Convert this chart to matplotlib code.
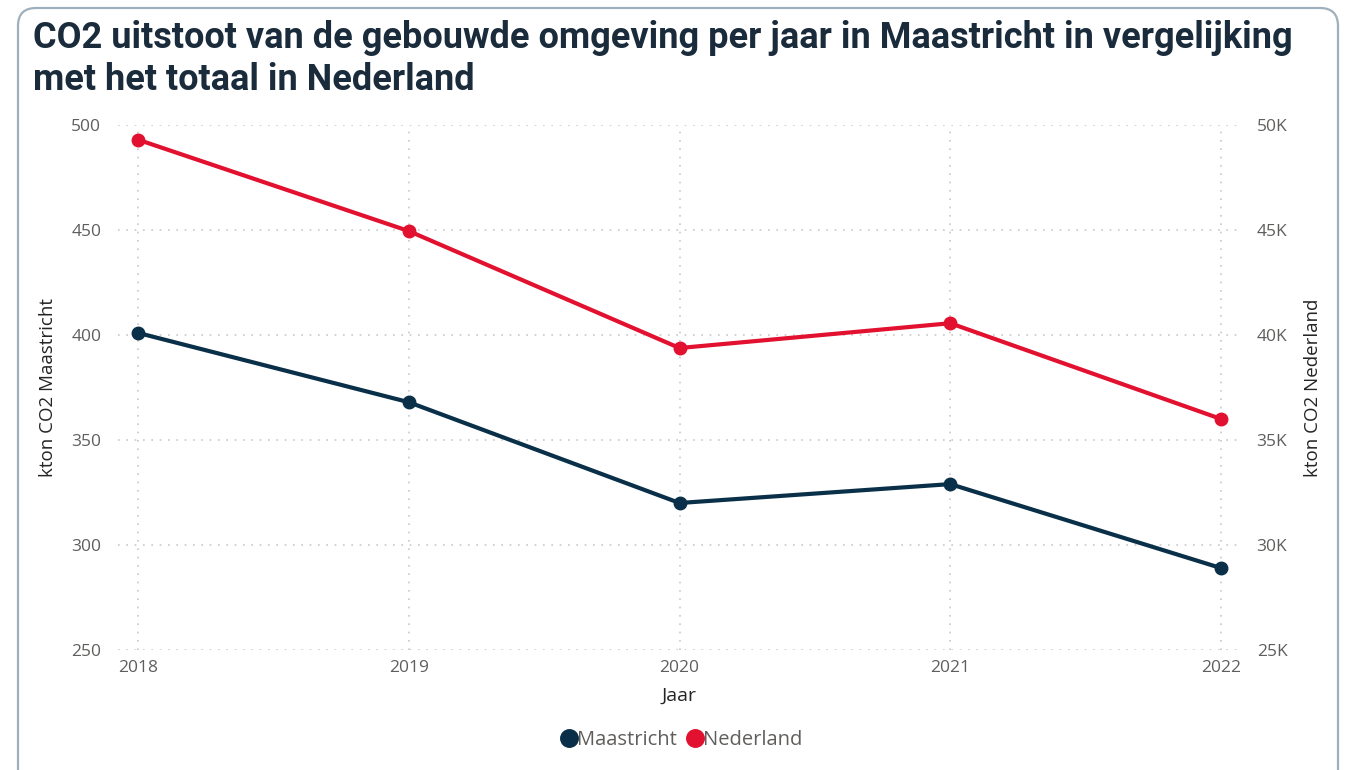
import matplotlib
matplotlib.use("Agg")
import matplotlib.pyplot as plt
from matplotlib.patches import FancyBboxPatch
from matplotlib.transforms import IdentityTransform
from matplotlib.ticker import FuncFormatter

# data
years = [2018, 2019, 2020, 2021, 2022]
maastricht = [401, 368, 320, 329, 289]
nederland = [49300, 44950, 39380, 40560, 36000]

left_ticks = [250, 300, 350, 400, 450, 500]
right_ticks = [25000, 30000, 35000, 40000, 45000, 50000]

C_MAAS = "#0A3049"
C_NED = "#E1112F"
C_TICK = "#605E5C"
C_TITLE = "#1A2B3B"
C_GRID = "#C8C8C8"

plt.rcParams["font.family"] = ["Open Sans", "DejaVu Sans"]

fig = plt.figure(figsize=(13.46, 7.7), dpi=100)
fig.patch.set_facecolor("white")

# rounded card border (pixel coordinates)
border = FancyBboxPatch((18, -20), 1320, 782, boxstyle="round,pad=0,rounding_size=18",
                        transform=IdentityTransform(), facecolor="none",
                        edgecolor="#9FB0BC", linewidth=1.6)
fig.patches.append(border)

fig.text(33 / 1346, 1 - 20 / 770,
         "CO2 uitstoot van de gebouwde omgeving per jaar in Maastricht in vergelijking\nmet het totaal in Nederland",
         ha="left", va="top", fontsize=26, fontweight="bold", color=C_TITLE,
         family=["Roboto", "DejaVu Sans"], linespacing=1.2)

ax = fig.add_axes([118 / 1346, 1 - 650 / 770, (1240 - 118) / 1346, (650 - 125) / 770])
ax2 = ax.twinx()

ax.plot(years, maastricht, color=C_MAAS, lw=3, marker="o", ms=9, zorder=3, label="Maastricht")
ax2.plot(years, nederland, color=C_NED, lw=3, marker="o", ms=9, zorder=3, label="Nederland")

ax.set_xlim(2017.926, 2022.07)
ax.set_ylim(250, 500)
ax2.set_ylim(25000, 50000)
ax.set_xticks(years)
ax.set_yticks(left_ticks)
ax2.set_yticks(right_ticks)
ax2.yaxis.set_major_formatter(FuncFormatter(lambda v, p: f"{int(v / 1000)}K"))

for a in (ax, ax2):
    for s in a.spines.values():
        s.set_visible(False)
    a.tick_params(length=0, labelsize=12.5, labelcolor=C_TICK)
ax.tick_params(axis="y", pad=12)
ax2.tick_params(axis="y", pad=12)
ax.tick_params(axis="x", pad=7)

ax.grid(True, color=C_GRID, linestyle=(0, (1, 4)), linewidth=1.2)
ax.set_axisbelow(True)

ax.set_ylabel("kton CO2 Maastricht", fontsize=13.5, color="#252423", labelpad=10)
ax2.set_ylabel("kton CO2 Nederland", fontsize=13.5, color="#252423", labelpad=12)
ax.set_xlabel("Jaar", fontsize=14, color="#252423", labelpad=8)

handles = ax.get_lines() + ax2.get_lines()
leg = fig.legend(handles, [h.get_label() for h in handles], loc="center",
                 bbox_to_anchor=(683 / 1346, 1 - 740 / 770), ncol=2, frameon=False,
                 handlelength=0.6, handletextpad=0.1, columnspacing=0.6,
                 fontsize=14.5, labelcolor=C_TICK, markerscale=1.4)
for h in leg.legend_handles:
    h.set_linestyle("none")

fig.savefig("out.png", dpi=100)
